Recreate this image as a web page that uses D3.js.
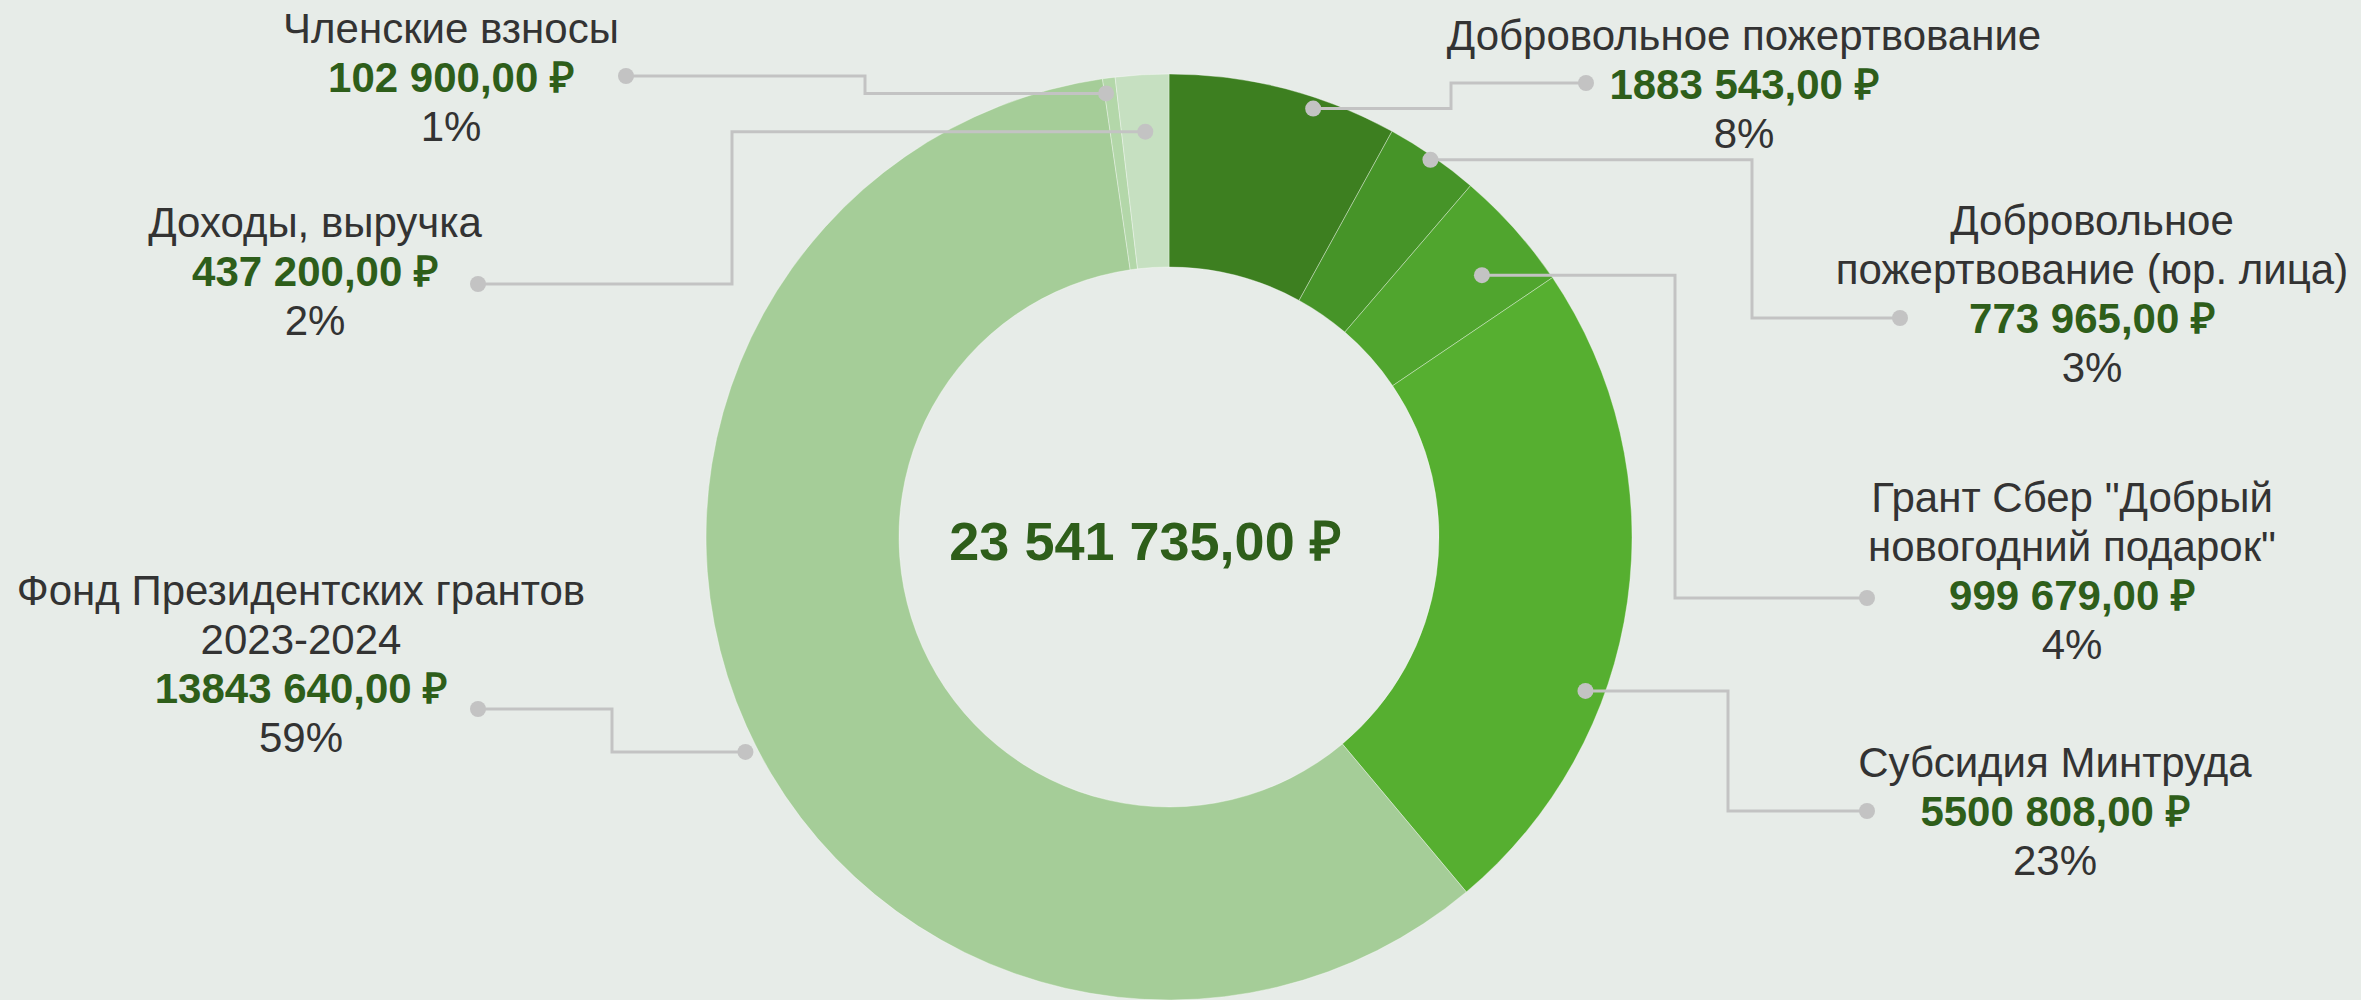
<!DOCTYPE html>
<html>
<head>
<meta charset="utf-8">
<script src="https://cdn.jsdelivr.net/npm/d3@7"></script>
<style>
  html, body { margin: 0; padding: 0; background: #e7ece8; }
  svg { display: block; font-family: "Liberation Sans", Arial, sans-serif; }
</style>
</head>
<body>
<div id="chart"></div>
<script>
// Данные: статьи доходов, суммы и проценты (как на картинке)
const categories = [
  "Добровольное пожертвование",
  "Добровольное\nпожертвование (юр. лица)",
  "Грант Сбер \"Добрый\nновогодний подарок\"",
  "Субсидия Минтруда",
  "Фонд Президентских грантов\n2023-2024",
  "Членские взносы",
  "Доходы, выручка"
];
const values = [1883543, 773965, 999679, 5500808, 13843640, 102900, 437200];
const percents = [8, 3, 4, 23, 59, 1, 2];
const sliceColors = ["#3d7f20", "#469428", "#50a52e", "#56af30", "#a5cd98", "#b3d7a9", "#c6e0c1"];

// Размеры
const width = 2361;
const height = 1000;
const cx = 1169, cy = 537;
const outerR = 463, innerR = 270;

// Раскладка выносок: центр текста, первая базовая линия, точка у подписи, излом линии,
// радиус и сдвиг угла точки на секторе
const callouts = [
  { tx: 1744, ty: 50,  dotX: 1586, dotY: 83,  elbowX: 1451, r: 452, dA: 4.2 },
  { tx: 2092, ty: 235, dotX: 1900, dotY: 318, elbowX: 1752, r: 459, dA: 0 },
  { tx: 2072, ty: 512, dotX: 1867, dotY: 598, elbowX: 1675, r: 408, dA: 1.8 },
  { tx: 2055, ty: 777, dotX: 1867, dotY: 811, elbowX: 1728, r: 444, dA: 12.3 },
  { tx: 301,  ty: 605, dotX: 478,  dotY: 709, elbowX: 612,  r: 475, dA: -2.8 },
  { tx: 451,  ty: 43,  dotX: 626,  dotY: 76,  elbowX: 865,  r: 448, dA: -0.6 },
  { tx: 315,  ty: 237, dotX: 478,  dotY: 284, elbowX: 732,  r: 406, dA: 0 }
];

const lineH = 49;
const fontSize = 42;

// Форматирование сумм
const fmtLabel = v => {
  const s = String(Math.floor(v));
  return s.slice(0, -3) + " " + s.slice(-3) + ",00 ₽";
};
const ru = d3.formatLocale({ decimal: ",", thousands: " ", grouping: [3], currency: ["", ""] });
const fmtTotal = v => ru.format(",.2f")(v) + " ₽";

const svg = d3.select("#chart")
  .append("svg")
  .attr("width", width)
  .attr("height", height)
  .attr("viewBox", [0, 0, width, height]);

svg.append("rect").attr("width", width).attr("height", height).attr("fill", "#e7ece8");

const data = categories.map((c, i) => ({ name: c, value: values[i], pct: percents[i], color: sliceColors[i], co: callouts[i] }));

const pie = d3.pie().sort(null).value(d => d.value).startAngle(0).endAngle(2 * Math.PI);
const arc = d3.arc().innerRadius(innerR).outerRadius(outerR);
const arcs = pie(data);

const g = svg.append("g").attr("transform", `translate(${cx},${cy})`);

// Сектора
g.selectAll("path.slice")
  .data(arcs)
  .enter()
  .append("path")
  .attr("class", "slice")
  .attr("d", arc)
  .attr("fill", d => d.data.color)
  .attr("stroke", "rgba(255,255,255,0.35)")
  .attr("stroke-width", 1);

// Итог в центре
svg.append("text")
  .attr("x", 1145)
  .attr("y", cy + 23)
  .attr("text-anchor", "middle")
  .attr("font-size", 54)
  .attr("font-weight", "bold")
  .attr("fill", "#2e5e1a")
  .text(fmtTotal(d3.sum(values)));

// Точка выноски на секторе
const slicePoint = d => {
  const a = (d.startAngle + d.endAngle) / 2 + d.data.co.dA * Math.PI / 180;
  const r = d.data.co.r;
  return [cx + r * Math.sin(a), cy - r * Math.cos(a)];
};

const lines = svg.append("g");
arcs.forEach(d => {
  const [sx, sy] = slicePoint(d);
  const co = d.data.co;
  lines.append("path")
    .attr("d", `M${sx},${sy}H${co.elbowX}V${co.dotY}H${co.dotX}`)
    .attr("fill", "none")
    .attr("stroke", "#c3c3c3")
    .attr("stroke-width", 3);
  lines.append("circle").attr("cx", sx).attr("cy", sy).attr("r", 8).attr("fill", "#c3c3c3");
  lines.append("circle").attr("cx", co.dotX).attr("cy", co.dotY).attr("r", 8).attr("fill", "#c3c3c3");
});

// Подписи
const labels = svg.append("g").attr("font-size", fontSize).attr("text-anchor", "middle");
arcs.forEach(d => {
  const co = d.data.co;
  const rows = d.data.name.split("\n").map(t => ({ t, bold: false, fill: "#333333" }));
  rows.push({ t: fmtLabel(d.data.value), bold: true, fill: "#2e5e1a" });
  rows.push({ t: d.data.pct + "%", bold: false, fill: "#333333" });
  rows.forEach((row, j) => {
    labels.append("text")
      .attr("x", co.tx)
      .attr("y", co.ty + j * lineH)
      .attr("font-weight", row.bold ? "bold" : "normal")
      .attr("fill", row.fill)
      .text(row.t);
  });
});
</script>
</body>
</html>
